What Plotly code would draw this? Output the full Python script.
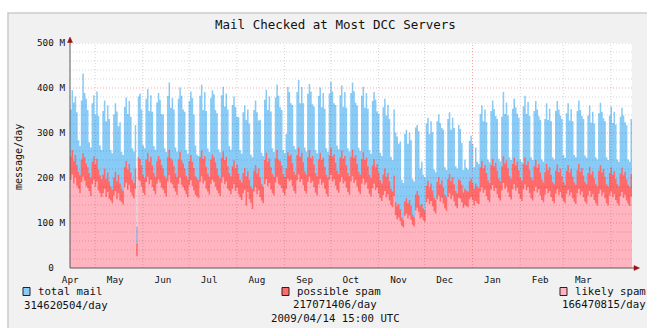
import pandas as pd
import plotly.graph_objects as go

# Daily mail counts (millions of messages/day), one row per week, Mon..Sun,
# starting Monday 2008-04-14 15:00 UTC.
total_mail = [
    352, 395, 368, 381, 346, 284, 271,
    372, 432, 389, 376, 351, 279, 268,
    366, 384, 341, 392, 338, 272, 262,
    349, 372, 326, 361, 331, 262, 255,
    341, 366, 348, 315, 324, 258, 251,
    358, 379, 342, 371, 336, 266, 259,
    318, 92, 381, 388, 352, 273, 266,
    376, 398, 349, 384, 347, 271, 263,
    368, 389, 374, 342, 341, 266, 258,
    382, 412, 356, 378, 352, 268, 259,
    376, 401, 383, 352, 347, 262, 254,
    371, 392, 378, 341, 272, 252, 249,
    383, 407, 351, 391, 349, 266, 258,
    378, 395, 386, 351, 344, 264, 257,
    384, 403, 359, 388, 352, 271, 263,
    362, 381, 358, 336, 335, 262, 254,
    346, 361, 329, 352, 321, 252, 246,
    351, 372, 346, 328, 329, 256, 249,
    374, 396, 351, 381, 348, 266, 258,
    379, 408, 383, 357, 351, 262, 255,
    298, 402, 391, 366, 362, 271, 264,
    391, 418, 366, 402, 366, 268, 259,
    387, 409, 392, 364, 359, 263, 255,
    382, 401, 357, 389, 354, 266, 258,
    388, 414, 392, 366, 362, 272, 264,
    384, 406, 358, 391, 356, 266, 259,
    389, 412, 393, 367, 361, 267, 260,
    383, 403, 356, 389, 354, 262, 254,
    371, 391, 374, 348, 343, 256, 249,
    357, 376, 339, 363, 331, 247, 240,
    352, 301, 292, 276, 281, 196, 189,
    298, 307, 276, 301, 284, 198, 192,
    312, 318, 304, 221, 236, 207, 201,
    321, 334, 298, 326, 302, 219, 213,
    326, 341, 322, 311, 307, 224, 218,
    331, 346, 307, 334, 311, 226, 221,
    318, 309, 278, 218, 241, 223, 219,
    282, 294, 276, 224, 268, 236, 231,
    342, 361, 326, 352, 324, 241, 235,
    349, 372, 353, 338, 331, 243, 237,
    336, 391, 342, 368, 339, 246, 240,
    354, 376, 357, 343, 334, 241, 235,
    359, 383, 342, 369, 338, 246, 240,
    349, 371, 352, 337, 329, 241, 236,
    331, 366, 329, 354, 326, 246, 241,
    349, 371, 352, 339, 331, 251, 245,
    344, 366, 328, 353, 326, 251, 246,
    349, 372, 351, 338, 331, 250, 245,
    339, 361, 323, 347, 321, 246, 241,
    344, 367, 347, 333, 326, 246, 240,
    339, 359, 322, 347, 319, 241, 236,
    336, 356, 339, 324, 317, 241, 236,
    331, 329,
]

possible_spam = [
    248, 262, 237, 251, 229, 214, 206,
    241, 255, 246, 232, 224, 211, 201,
    236, 248, 231, 243, 219, 206, 198,
    207, 221, 198, 212, 192, 181, 174,
    201, 214, 193, 207, 188, 176, 171,
    224, 238, 219, 231, 212, 196, 189,
    221, 54, 246, 242, 228, 207, 200,
    241, 256, 236, 247, 228, 211, 203,
    237, 249, 241, 229, 221, 205, 199,
    246, 263, 244, 239, 226, 210, 202,
    241, 258, 239, 232, 221, 205, 197,
    238, 251, 236, 222, 204, 199, 195,
    246, 261, 242, 249, 225, 210, 203,
    241, 252, 246, 235, 221, 206, 199,
    245, 259, 240, 247, 226, 211, 204,
    226, 239, 221, 230, 210, 196, 190,
    211, 222, 204, 215, 196, 181, 176,
    216, 229, 210, 221, 201, 186, 180,
    240, 256, 236, 244, 224, 209, 203,
    244, 262, 241, 238, 227, 209, 202,
    221, 257, 249, 252, 233, 214, 207,
    251, 268, 247, 256, 235, 215, 208,
    246, 262, 244, 249, 230, 211, 204,
    241, 256, 240, 245, 225, 207, 201,
    251, 267, 248, 253, 234, 216, 209,
    246, 261, 243, 249, 229, 211, 204,
    247, 263, 245, 251, 231, 214, 207,
    242, 257, 240, 245, 226, 207, 200,
    228, 242, 224, 231, 212, 195, 188,
    208, 221, 203, 211, 193, 176, 170,
    205, 146, 138, 142, 131, 112, 106,
    148, 155, 144, 151, 139, 118, 113,
    163, 171, 161, 139, 142, 132, 128,
    183, 194, 179, 188, 172, 156, 151,
    191, 202, 186, 195, 179, 163, 158,
    198, 209, 193, 202, 186, 171, 166,
    197, 194, 185, 168, 176, 172, 170,
    193, 199, 190, 176, 188, 181, 178,
    224, 238, 221, 229, 211, 195, 189,
    229, 243, 226, 234, 216, 199, 193,
    226, 249, 232, 239, 221, 204, 198,
    231, 245, 228, 236, 217, 200, 194,
    231, 246, 229, 237, 218, 201, 195,
    226, 240, 223, 231, 212, 196, 190,
    213, 231, 218, 224, 207, 191, 186,
    216, 230, 213, 221, 204, 191, 185,
    216, 229, 212, 220, 203, 190, 185,
    217, 231, 214, 222, 205, 191, 186,
    211, 225, 208, 215, 199, 186, 181,
    216, 229, 212, 220, 203, 186, 181,
    211, 224, 207, 215, 198, 186, 181,
    210, 223, 206, 214, 197, 185, 180,
    209, 207,
]

likely_spam = [
    196, 208, 188, 201, 183, 176, 166,
    191, 203, 194, 182, 178, 171, 160,
    186, 196, 181, 192, 172, 166, 158,
    166, 176, 158, 169, 154, 150, 144,
    161, 171, 153, 166, 150, 146, 141,
    180, 190, 174, 185, 168, 161, 155,
    176, 26, 196, 193, 181, 168, 162,
    191, 203, 186, 196, 180, 171, 164,
    187, 197, 190, 179, 174, 166, 159,
    192, 206, 190, 186, 177, 170, 162,
    187, 201, 185, 180, 172, 164, 157,
    184, 195, 182, 172, 162, 159, 155,
    191, 204, 188, 194, 176, 170, 163,
    187, 196, 191, 181, 173, 166, 160,
    190, 202, 186, 192, 176, 171, 164,
    176, 186, 171, 179, 164, 157, 151,
    166, 174, 139, 169, 153, 145, 131,
    170, 180, 164, 173, 158, 150, 144,
    186, 198, 182, 189, 175, 166, 161,
    190, 203, 187, 184, 177, 168, 162,
    176, 199, 193, 196, 182, 171, 165,
    195, 208, 191, 198, 184, 171, 165,
    191, 203, 189, 193, 180, 167, 161,
    186, 198, 185, 190, 176, 165, 159,
    196, 207, 192, 197, 183, 173, 167,
    191, 202, 188, 193, 179, 169, 163,
    192, 204, 189, 195, 181, 170, 164,
    187, 199, 185, 190, 176, 165, 159,
    177, 187, 173, 179, 165, 155, 149,
    162, 171, 157, 164, 150, 140, 135,
    160, 117, 108, 112, 104, 94, 90,
    116, 121, 110, 117, 107, 96, 92,
    128, 134, 125, 110, 113, 106, 103,
    146, 154, 142, 149, 137, 126, 121,
    153, 161, 148, 156, 143, 132, 127,
    158, 166, 153, 161, 148, 138, 133,
    156, 154, 146, 134, 140, 137, 135,
    153, 158, 151, 139, 149, 144, 142,
    170, 180, 167, 174, 160, 151, 146,
    174, 184, 171, 178, 164, 155, 150,
    172, 189, 176, 181, 168, 158, 152,
    175, 186, 172, 179, 165, 154, 149,
    175, 186, 173, 180, 166, 155, 150,
    171, 181, 168, 175, 161, 151, 146,
    163, 176, 166, 171, 158, 149, 144,
    165, 175, 162, 169, 156, 149, 144,
    165, 174, 161, 168, 155, 147, 142,
    166, 176, 163, 170, 157, 148, 143,
    161, 171, 158, 164, 151, 144, 139,
    165, 174, 161, 168, 155, 144, 139,
    161, 170, 157, 164, 151, 144, 139,
    160, 169, 156, 163, 150, 143, 138,
    159, 158,
]

month_labels = ["Apr", "May", "Jun", "Jul", "Aug", "Sep", "Oct",
                "Nov", "Dec", "Jan", "Feb", "Mar"]
label_dates = ["2008-04-14 18:00", "2008-05-14", "2008-06-14", "2008-07-14",
               "2008-08-14", "2008-09-14", "2008-10-14", "2008-11-14",
               "2008-12-14", "2009-01-14", "2009-02-14", "2009-03-14"]
month_starts = ["2008-05-01", "2008-06-01", "2008-07-01", "2008-08-01",
                "2008-09-01", "2008-10-01", "2008-11-01", "2008-12-01",
                "2009-01-01", "2009-02-01", "2009-03-01", "2009-04-01"]
year_starts = ["2009-01-01"]

NB = "\u00a0"
y_ticks = [0, 100, 200, 300, 400, 500]
y_ticktext = ["0" + NB * 2, "100 M", "200 M", "300 M", "400 M", "500 M"]
y_minor = [v for v in range(20, 500, 20) if v % 100]

legend_names = ["total mail", "possible spam", "likely spam"]
legend_rates = ["314620504/day", "217071406/day", "166470815/day"]
stamp = "2009/04/14 15:00 UTC"

start = pd.Timestamp("2008-04-14 15:00")
end = pd.Timestamp("2009-04-14 15:00")
days = pd.date_range(start, periods=len(total_mail), freq="D")

BLUE = "#88cbf6"
RED = "#ff6a6a"
PINK = "#ffb4c0"
MONO = "DejaVu Sans Mono"

W, H = 647, 328
ML, MR, MT, MB = 70, 15, 43, 60
PW, PH = W - ML - MR, H - MT - MB


def px(x):
    return (x - ML) / PW


def py(y):
    return (H - MB - y) / PH


fig = go.Figure()
for vals, color in [(total_mail, BLUE), (possible_spam, RED), (likely_spam, PINK)]:
    fig.add_trace(go.Scatter(
        x=days, y=vals, mode="lines",
        line=dict(width=0, shape="hv"),
        fill="tozeroy", fillcolor=color,
        hoverinfo="skip", showlegend=False,
    ))

shapes = []
# canvas panel and white plotting area
shapes.append(dict(type="rect", xref="paper", yref="paper", layer="below",
                   x0=px(8), x1=px(W + 5), y0=py(H + 5), y1=py(13),
                   fillcolor="#f1f1f1", line=dict(color="#cbcbcb", width=1.5)))
shapes.append(dict(type="rect", xref="paper", yref="paper", layer="below",
                   x0=0, x1=1, y0=0, y1=1, fillcolor="white", line=dict(width=0)))

# grid drawn over the areas
for v in y_minor:
    shapes.append(dict(type="line", xref="paper", yref="y", layer="above",
                       x0=0, x1=1, y0=v, y1=v,
                       line=dict(color="rgba(0,0,0,0.16)", width=1, dash="1px,2px")))
for v in y_ticks[1:]:
    shapes.append(dict(type="line", xref="paper", yref="y", layer="above",
                       x0=0, x1=1, y0=v, y1=v,
                       line=dict(color="rgba(235,60,60,0.45)", width=1, dash="1px,2px")))
for d in month_starts:
    col = "rgba(235,60,60,0.45)" if d in year_starts else "rgba(0,0,0,0.16)"
    shapes.append(dict(type="line", xref="x", yref="paper", layer="above",
                       x0=d, x1=d, y0=0, y1=1,
                       line=dict(color=col, width=1, dash="1px,2px")))

# axes with arrow heads
AX = "#5a5a5a"
ARROW = "#9a1010"
shapes.append(dict(type="line", xref="paper", yref="paper", layer="above",
                   x0=0, x1=0, y0=0, y1=py(40), line=dict(color=AX, width=1)))
shapes.append(dict(type="line", xref="paper", yref="paper", layer="above",
                   x0=0, x1=px(635), y0=0, y1=0, line=dict(color=AX, width=1)))
shapes.append(dict(type="path", xref="paper", yref="paper", layer="above",
                   path=f"M {px(67.5)},{py(42.5)} L {px(72.5)},{py(42.5)} L {px(70)},{py(37)} Z",
                   fillcolor=ARROW, line=dict(color=ARROW, width=0.5)))
shapes.append(dict(type="path", xref="paper", yref="paper", layer="above",
                   path=f"M {px(634)},{py(265.5)} L {px(634)},{py(270.5)} L {px(639.5)},{py(268)} Z",
                   fillcolor=ARROW, line=dict(color=ARROW, width=0.5)))

# legend swatches
for x0, y0, color in [(23, 287.5, BLUE), (282, 287.5, RED), (560, 287.5, PINK)]:
    shapes.append(dict(type="rect", xref="paper", yref="paper", layer="above",
                       x0=px(x0), x1=px(x0 + 7), y0=py(y0 + 8), y1=py(y0),
                       fillcolor=color, line=dict(color="#222", width=1)))

ann = []


def text(s, x, y, anchor="left", size=10.7, angle=0):
    ann.append(dict(text=s, x=px(x), y=py(y), xref="paper", yref="paper",
                    xanchor=anchor, yanchor="middle", showarrow=False,
                    textangle=angle,
                    font=dict(family=MONO, size=size, color="#111")))


text("Mail Checked at Most DCC Servers", 335, 24.5, "center", 12.5)
text("message/day", 18, 157, "center", 10, -90)
text(legend_names[0], 35.5, 291.5)
text(legend_rates[0], 22, 305)
text(legend_names[1], 295, 291.5)
text(legend_rates[1], 334.5, 304.5, "center")
text(stamp, 335.5, 318.5, "center")
text(legend_names[2], 572.5, 291.5)
text(legend_rates[2], 560, 304.5)

fig.update_layout(
    width=W, height=H,
    margin=dict(l=ML, r=MR, t=MT, b=MB),
    paper_bgcolor="white", plot_bgcolor="white",
    showlegend=False, shapes=shapes, annotations=ann,
    font=dict(family=MONO, size=9.3, color="#111"),
)
fig.update_xaxes(type="date", range=[start, end], tickmode="array",
                 tickvals=label_dates, ticktext=month_labels,
                 showgrid=False, zeroline=False, showline=False, ticks="",
                 ticklabelstandoff=5,
                 tickfont=dict(family=MONO, size=9.3))
fig.update_yaxes(range=[0, 500], tickmode="array", tickvals=y_ticks,
                 ticktext=y_ticktext, showgrid=False, zeroline=False,
                 showline=False, ticks="", ticklabelstandoff=4,
                 tickfont=dict(family=MONO, size=9.3))

fig.write_html("out.html")
